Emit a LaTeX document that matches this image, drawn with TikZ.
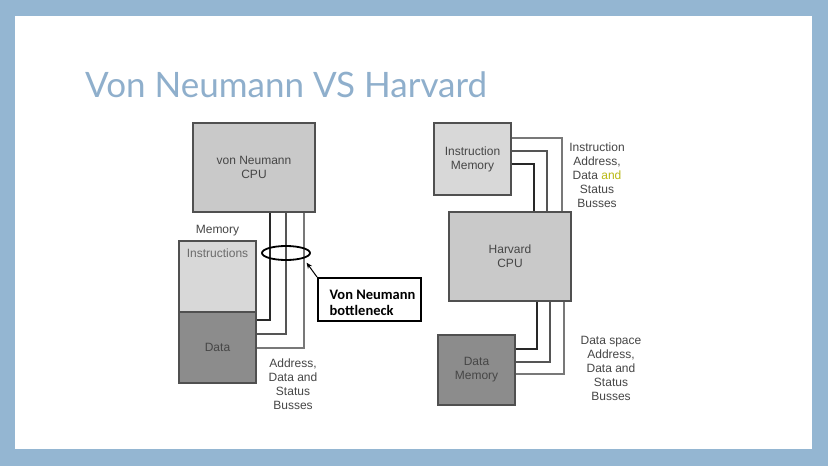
\documentclass[tikz,border=0pt]{standalone}
\usepackage{fontspec}
\setmainfont{Liberation Sans}
\newfontfamily\titlefont{Lato}
\newfontfamily\notefont{Carlito}
\usetikzlibrary{positioning, arrows.meta, shapes.geometric}
\definecolor{framebg}{RGB}{148,182,210}
\definecolor{titleblue}{RGB}{143,175,204}
\definecolor{boxline}{RGB}{80,80,80}
\definecolor{boxtext}{RGB}{70,70,70}
\definecolor{cpufill}{RGB}{201,201,201}
\definecolor{instrfill}{RGB}{216,216,216}
\definecolor{datafill}{RGB}{140,140,140}
\definecolor{busdark}{RGB}{40,40,40}
\definecolor{busmid}{RGB}{85,85,85}
\definecolor{buslight}{RGB}{120,120,120}
\definecolor{andyellow}{RGB}{185,185,20}
\tikzset{
    unit/.style={rectangle, draw=boxline, line width=1.2pt, inner sep=0pt, align=center, text=boxtext, font=\fontsize{12}{14}\selectfont},
    cpu/.style={unit, fill=cpufill, minimum width=122pt, minimum height=89pt},
    mem/.style={unit, minimum width=77pt, minimum height=71pt},
    boxlabel/.style={inner sep=1pt, align=center, text=boxtext, font=\fontsize{12}{14}\selectfont},
    note/.style={inner sep=0pt, align=center, text=boxtext, font=\fontsize{12}{14}\selectfont},
    bus/.style={line width=1.6pt},
    neckbox/.style={rectangle, draw=black, line width=2pt, minimum width=103pt, minimum height=43pt, inner sep=0pt, align=left, font=\notefont\bfseries\fontsize{14.5}{16}\selectfont},
    arrow/.style={-{Stealth[length=6pt, width=5pt]}, line width=1pt}
}

\begin{document}
\begin{tikzpicture}[x=1pt, y=-1pt]
    \useasboundingbox (0,0) rectangle (828,466);
    \fill[framebg] (0,0) rectangle (828,466);
    \fill[white] (15,16) rectangle (812,449);

    % Title
    \node[anchor=base west, inner sep=0pt, text=titleblue, font=\titlefont\fontsize{35}{40}\selectfont] (title) at (85,97) {Von Neumann VS Harvard};

    % von Neumann
    \node[cpu] (vnCPU) at (254,167.5) {von Neumann\\CPU};
    \node[mem, fill=instrfill] (vnInstr) at (217.5,276.5) {};
    \node[mem, fill=datafill] (vnData) at (217.5,347.5) {Data};
    \node[boxlabel, text=boxtext!80, below=7pt of vnInstr.north] (vnInstrText) {Instructions};
    \node[boxlabel, above=3pt of vnInstr.north] (vnMemText) {Memory};

    \coordinate (vnBus1) at (270,320);
    \coordinate (vnBus2) at (286,334);
    \coordinate (vnBus3) at (304,348);
    \draw[bus, busdark] (vnCPU.south -| vnBus1) |- (vnData.east |- vnBus1);
    \draw[bus, busmid] (vnCPU.south -| vnBus2) |- (vnData.east |- vnBus2);
    \draw[bus, buslight] (vnCPU.south -| vnBus3) |- (vnData.east |- vnBus3);
    \node[note] (vnBusText) at (293,384) {Address,\\Data and\\Status\\Busses};

    % bottleneck
    \node[draw=black, ellipse, line width=1.8pt, minimum width=48pt, minimum height=14pt, inner sep=0pt] (neck) at (286,253) {};
    \node[neckbox] (neckText) at (369.5,299.5) {\rule{0pt}{17pt}\hspace*{6pt}Von Neumann\\\hspace*{6pt}bottleneck\hspace*{6pt}};
    \draw[arrow, shorten >=5pt] (neckText.north west) -- (neck.south east);

    % Harvard
    \node[mem, fill=instrfill, minimum height=72pt] (hIM) at (472.5,159) {Instruction\\Memory};
    \node[cpu] (hCPU) at (510,256.5) {Harvard\\CPU};
    \node[mem, fill=datafill, minimum height=70pt] (hDM) at (476.5,370) {Data\\Memory};

    \coordinate (hiBus1) at (534,164);
    \coordinate (hiBus2) at (547,151);
    \coordinate (hiBus3) at (562,138);
    \draw[bus, busdark] (hIM.east |- hiBus1) -| (hCPU.north -| hiBus1);
    \draw[bus, busmid] (hIM.east |- hiBus2) -| (hCPU.north -| hiBus2);
    \draw[bus, buslight] (hIM.east |- hiBus3) -| (hCPU.north -| hiBus3);

    \coordinate (hdBus1) at (537,349);
    \coordinate (hdBus2) at (550,362);
    \coordinate (hdBus3) at (564,374);
    \draw[bus, busdark] (hCPU.south -| hdBus1) |- (hDM.east |- hdBus1);
    \draw[bus, busmid] (hCPU.south -| hdBus2) |- (hDM.east |- hdBus2);
    \draw[bus, buslight] (hCPU.south -| hdBus3) |- (hDM.east |- hdBus3);

    \node[note] (hiBusText) at (597,175) {Instruction\\Address,\\Data \textcolor{andyellow}{and}\\Status\\Busses};
    \node[note] (hdBusText) at (611,368) {Data space\\Address,\\Data and\\Status\\Busses};
\end{tikzpicture}
\end{document}
